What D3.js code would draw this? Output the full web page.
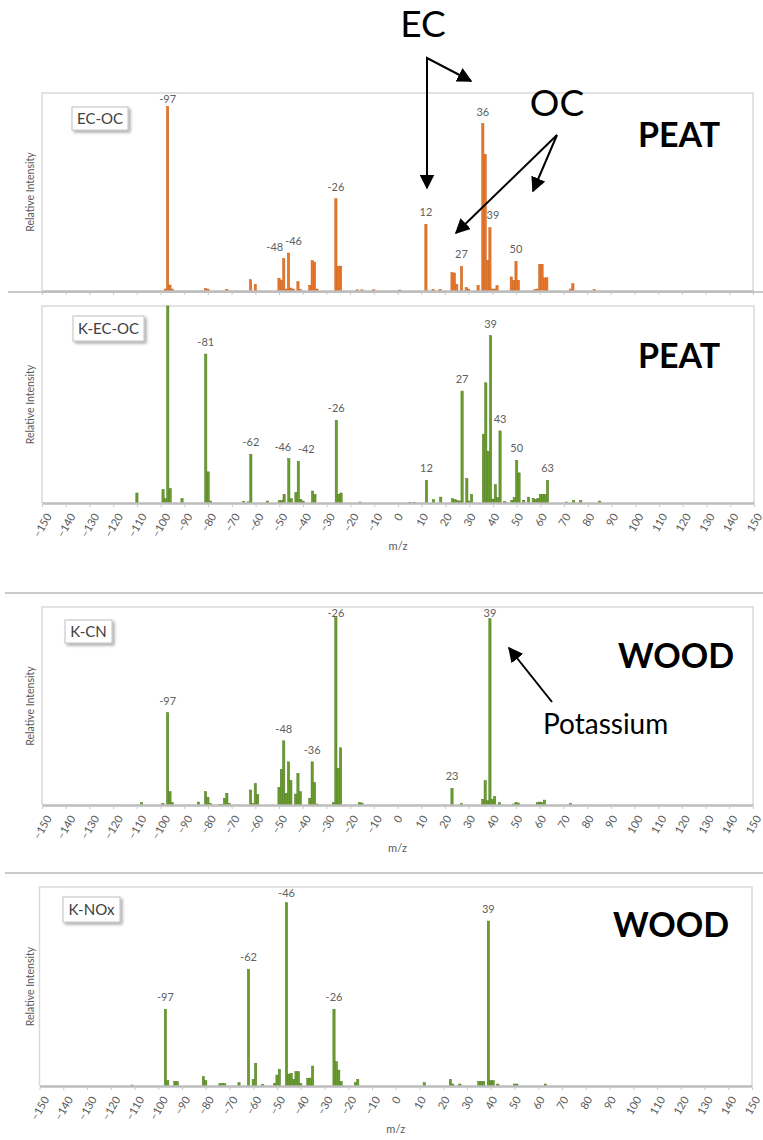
<!DOCTYPE html>
<html>
<head>
<meta charset="utf-8">
<script src="https://cdn.jsdelivr.net/npm/d3@7"></script>
<style>
  body { margin: 0; background: #fff; }
  svg { display: block; }
</style>
</head>
<body>
<div id="chart"></div>
<script>
// m/z tick labels shared by every spectrum
const mzTicks = [-150, -140, -130, -120, -110, -100, -90, -80, -70, -60, -50, -40, -30, -20, -10,
  0, 10, 20, 30, 40, 50, 60, 70, 80, 90, 100, 110, 120, 130, 140, 150];

// [m/z, relative intensity %]
const ecOc = [[-98, 1], [-97, 93.3], [-96, 3], [-95, 1], [-81, 1.3], [-80, 1], [-72, 0.8], [-62, 5.7], [-60, 3.4],
  [-50, 6.5], [-49, 5.5], [-48, 16.3], [-47, 1], [-46, 19.2], [-45, 1.5], [-44, 1], [-42, 4.7], [-41, 0.8],
  [-37, 2.9], [-36, 15.3], [-35, 14.6], [-34, 1], [-26, 46.6], [-25, 12.5], [-24, 12.6], [-17, 0.6], [-15, 0.6],
  [-10, 0.6], [1, 0.5], [12, 33.7], [15, 0.8], [18, 0.8], [23, 9.3], [24, 9.1], [25, 3.4], [27, 12.5], [29, 1.7],
  [30, 1], [34, 2.9], [36, 84.5], [37, 69], [38, 15.5], [39, 32], [40, 1], [41, 1], [42, 2.7], [48, 7.1], [49, 5.4],
  [50, 15], [51, 5.4], [58, 0.7], [59, 1], [60, 13.3], [61, 13.5], [62, 6.6], [63, 6.7], [73, 1], [74, 3.7], [83, 0.7]];
const ecOcPeaks = [-97, -48, -46, -26, 12, 27, 36, 39, 50];

const kEcOc = [[-110, 5.1], [-99, 6.8], [-98, 2.2], [-97, 100], [-96, 7.3], [-91, 2.2], [-81, 75.6], [-80, 15.8],
  [-79, 1], [-65, 0.7], [-63, 0.6], [-62, 24.7], [-55, 1], [-50, 1.2], [-49, 1.2], [-48, 4.4], [-46, 22.5],
  [-45, 2.2], [-43, 5.3], [-42, 21.2], [-41, 1.9], [-40, 1], [-36, 6.1], [-35, 4.4], [-26, 42], [-25, 4.4],
  [-24, 5.1], [-16, 0.5], [5, 0.4], [7, 0.4], [12, 11.5], [15, 1.7], [18, 3], [23, 2.2], [24, 1.7], [25, 1.2],
  [26, 1], [27, 56.8], [29, 12.4], [30, 1], [31, 4.4], [36, 34.9], [37, 61], [38, 26.3], [39, 84.9], [40, 2],
  [41, 9.3], [42, 2.7], [43, 36.6], [45, 0.7], [48, 1.4], [49, 2.7], [50, 21.7], [51, 15.3], [53, 1.4], [55, 3],
  [57, 2.4], [58, 1.7], [59, 2.4], [60, 4.4], [61, 4.4], [62, 4.4], [63, 11.5], [71, 0.5], [74, 1.2], [77, 1.2], [85, 1]];
const kEcOcPeaks = [-81, -62, -46, -42, -26, 12, 27, 39, 43, 50, 63];

const kCn = [[-108, 1.2], [-99, 0.8], [-97, 46.6], [-96, 6.7], [-95, 1.2], [-84, 1.5], [-81, 6.7], [-80, 3.9],
  [-79, 0.8], [-75, 0.3], [-74, 0.3], [-73, 3.4], [-72, 5.9], [-71, 0.8], [-62, 7.6], [-61, 0.8], [-60, 10.9],
  [-59, 5.2], [-50, 8.9], [-49, 18], [-48, 32.4], [-47, 5.9], [-46, 21.8], [-45, 12.3], [-43, 5.5], [-42, 16],
  [-41, 6.7], [-37, 3.4], [-36, 21.8], [-35, 11.3], [-34, 0.5], [-27, 1.3], [-26, 94.6], [-25, 18.5], [-24, 28.9],
  [-16, 1.3], [-15, 1], [23, 8.4], [27, 0.8], [36, 2.9], [37, 12.3], [38, 2.2], [39, 94.1], [40, 2.9], [41, 4.2],
  [43, 1.2], [49, 0.5], [50, 1.3], [51, 1], [59, 1.2], [60, 1.5], [61, 1.2], [62, 2.5], [73, 0.8]];
const kCnPeaks = [-97, -48, -36, -26, 23, 39];

const kNox = [[-111, 0.5], [-97, 38.5], [-96, 2.7], [-93, 2.2], [-92, 2.2], [-81, 4.7], [-80, 2.7], [-74, 1.2],
  [-73, 1.2], [-72, 1.2], [-66, 1.7], [-62, 58.7], [-60, 3.3], [-59, 11.4], [-56, 0.8], [-51, 1.3], [-50, 5.5],
  [-49, 8.4], [-46, 92.1], [-45, 6], [-44, 6.4], [-43, 3.3], [-42, 7.2], [-41, 7.2], [-40, 1.3], [-37, 3.8],
  [-36, 4], [-35, 10], [-26, 38.6], [-25, 12.2], [-24, 8], [-23, 2.2], [-17, 1.7], [-16, 3.3], [12, 1.7],
  [23, 3.3], [24, 1], [27, 1], [35, 2.2], [36, 2.2], [37, 2.3], [39, 82.9], [40, 2.7], [41, 2.7], [43, 1],
  [50, 1], [51, 1], [63, 1]];
const kNoxPeaks = [-97, -62, -46, -26, 39];

const width = 763, height = 1140;
const orange = { fill: "#e8772b", edge: "#c65e17" };
const green = { fill: "#6b9c2f", edge: "#4b7a1c" };

const panels = [
  { tag: "EC-OC", data: ecOc, peaks: ecOcPeaks, col: orange, top: 93, base: 291, left: 42, right: 753,
    ticks: false, fuel: "PEAT", fuelX: 679, fuelY: 147, tagBox: [72, 107, 56, 23],
    nudge: { "-48": -9, "-46": 5, "39": 3 } },
  { tag: "K-EC-OC", data: kEcOc, peaks: kEcOcPeaks, col: green, top: 306, base: 503, left: 42, right: 754,
    ticks: true, fuel: "PEAT", fuelX: 679, fuelY: 368, tagBox: [73, 316, 71, 25],
    nudge: { "-46": -6, "-42": 8 } },
  { tag: "K-CN", data: kCn, peaks: kCnPeaks, col: green, top: 607, base: 805, left: 42, right: 753,
    ticks: true, fuel: "WOOD", fuelX: 676, fuelY: 668, tagBox: [65, 620, 47, 23], nudge: {} },
  { tag: "K-NOx", data: kNox, peaks: kNoxPeaks, col: green, top: 887, base: 1086, left: 39.5, right: 752,
    ticks: true, fuel: "WOOD", fuelX: 671, fuelY: 937, tagBox: [63, 897, 57, 25], nudge: {} }
];

const svg = d3.select("#chart").append("svg")
  .attr("width", width).attr("height", height)
  .attr("font-family", "Lato, 'Open Sans', sans-serif");

const defs = svg.append("defs");
defs.append("filter").attr("id", "shadow")
  .attr("x", "-20%").attr("y", "-20%").attr("width", "150%").attr("height", "160%")
  .append("feDropShadow")
  .attr("dx", 2).attr("dy", 2).attr("stdDeviation", 1.5)
  .attr("flood-color", "#000").attr("flood-opacity", 0.35);
defs.append("marker").attr("id", "head")
  .attr("viewBox", "0 0 10 10").attr("refX", 9).attr("refY", 5)
  .attr("markerWidth", 7.5).attr("markerHeight", 7.5)
  .attr("markerUnits", "strokeWidth")
  .attr("orient", "auto-start-reverse")
  .append("path").attr("d", "M0,0 L10,5 L0,10 Z").attr("fill", "#000");

// separators between the stacked spectra
[292, 593, 873].forEach(yy => {
  svg.append("line").attr("x1", yy === 292 ? 8 : 5).attr("x2", width)
    .attr("y1", yy).attr("y2", yy)
    .attr("stroke", "#c9c9c9").attr("stroke-width", 2);
});

panels.forEach(p => {
  const x = d3.scaleLinear().domain([-150, 150]).range([p.left, p.right]);
  const y = d3.scaleLinear().domain([0, 100]).range([p.base, p.top]);
  const bw = x(0.95) - x(0);
  const g = svg.append("g");

  // plot frame
  g.append("path")
    .attr("d", `M${p.left},${p.base} V${p.top} H${p.right} V${p.base}`)
    .attr("fill", "none").attr("stroke", "#d9d9d9").attr("stroke-width", 1.5);

  g.append("g")
    .selectAll("rect")
    .data(p.data)
    .join("rect")
    .attr("x", d => x(d[0]) - bw / 2)
    .attr("y", d => y(Math.min(d[1], 100)))
    .attr("width", bw)
    .attr("height", d => p.base - y(Math.min(d[1], 100)))
    .attr("fill", p.col.fill)
    .attr("stroke", p.col.edge)
    .attr("stroke-width", 0.5);

  // x axis
  const ax = g.append("g")
    .attr("transform", `translate(0,${p.base})`)
    .call(d3.axisBottom(x).tickValues(mzTicks).tickSize(p.ticks ? 3 : 0).tickSizeOuter(0));
  ax.select(".domain").attr("stroke", "#bdbdbd").attr("stroke-width", 2.5);
  ax.selectAll(".tick line").attr("stroke", "#c8c8c8").attr("y1", 1.5).attr("y2", 4);
  if (!p.ticks) {
    ax.selectAll(".tick text").remove();
  } else {
    ax.selectAll(".tick text")
      .attr("font-family", "Lato, sans-serif")
      .attr("font-size", 11)
      .attr("fill", "#595959")
      .attr("text-anchor", "middle")
      .attr("dy", "0.35em")
      .attr("y", null)
      .each(function () {
        const len = this.getComputedTextLength();
        const half = (len * Math.sin(Math.PI / 3) + 9 * 0.5) / 2;
        d3.select(this).attr("transform", `translate(0,${9 + half}) rotate(-60)`);
      });
    g.append("text")
      .attr("x", x(0)).attr("y", p.base + 47)
      .attr("text-anchor", "middle")
      .attr("font-size", 11).attr("fill", "#595959")
      .text("m/z");
  }

  // y axis title
  g.append("text")
    .attr("transform", `translate(34,${(p.top + p.base) / 2}) rotate(-90)`)
    .attr("text-anchor", "middle")
    .attr("font-size", 10.5).attr("fill", "#595959")
    .text("Relative Intensity");

  // peak labels
  const lookup = new Map(p.data);
  g.append("g")
    .selectAll("text")
    .data(p.peaks)
    .join("text")
    .attr("x", d => x(d) + (p.nudge[d] || 0))
    .attr("y", d => Math.max(y(Math.min(lookup.get(d), 100)) - 12, p.top + 6))
    .attr("dy", "0.35em")
    .attr("text-anchor", "middle")
    .attr("font-size", 11).attr("fill", "#606060")
    .text(d => d);

  // sample tag
  const [tx, ty, tw, th] = p.tagBox;
  g.append("rect")
    .attr("x", tx).attr("y", ty).attr("width", tw).attr("height", th)
    .attr("fill", "#fff").attr("stroke", "#bfbfbf").attr("stroke-width", 1)
    .attr("filter", "url(#shadow)");
  g.append("text")
    .attr("x", tx + tw / 2).attr("y", ty + th / 2)
    .attr("dy", "0.35em").attr("text-anchor", "middle")
    .attr("font-size", 15).attr("fill", "#404040")
    .text(p.tag);

  // fuel
  g.append("text")
    .attr("x", p.fuelX).attr("y", p.fuelY)
    .attr("text-anchor", "middle")
    .attr("font-size", 34).attr("font-weight", "bold").attr("fill", "#000")
    .text(p.fuel);
});

// annotations
const ann = svg.append("g").attr("font-family", "Lato, sans-serif");
ann.append("text").attr("x", 423).attr("y", 37).attr("text-anchor", "middle")
  .attr("font-size", 37).text("EC");
ann.append("text").attr("x", 557).attr("y", 116).attr("text-anchor", "middle")
  .attr("font-size", 37).text("OC");
ann.append("path").attr("d", "M427,188 V58 L471,81")
  .attr("fill", "none").attr("stroke", "#000").attr("stroke-width", 2)
  .attr("marker-start", "url(#head)").attr("marker-end", "url(#head)");
ann.append("path").attr("d", "M557,135 L456,233")
  .attr("fill", "none").attr("stroke", "#000").attr("stroke-width", 2)
  .attr("marker-end", "url(#head)");
ann.append("path").attr("d", "M557,135 L533,191")
  .attr("fill", "none").attr("stroke", "#000").attr("stroke-width", 2)
  .attr("marker-end", "url(#head)");
ann.append("path").attr("d", "M552,702 L509,648")
  .attr("fill", "none").attr("stroke", "#000").attr("stroke-width", 2)
  .attr("marker-end", "url(#head)");
ann.append("text").attr("x", 543).attr("y", 734)
  .attr("font-size", 28).text("Potassium");
</script>
</body>
</html>
